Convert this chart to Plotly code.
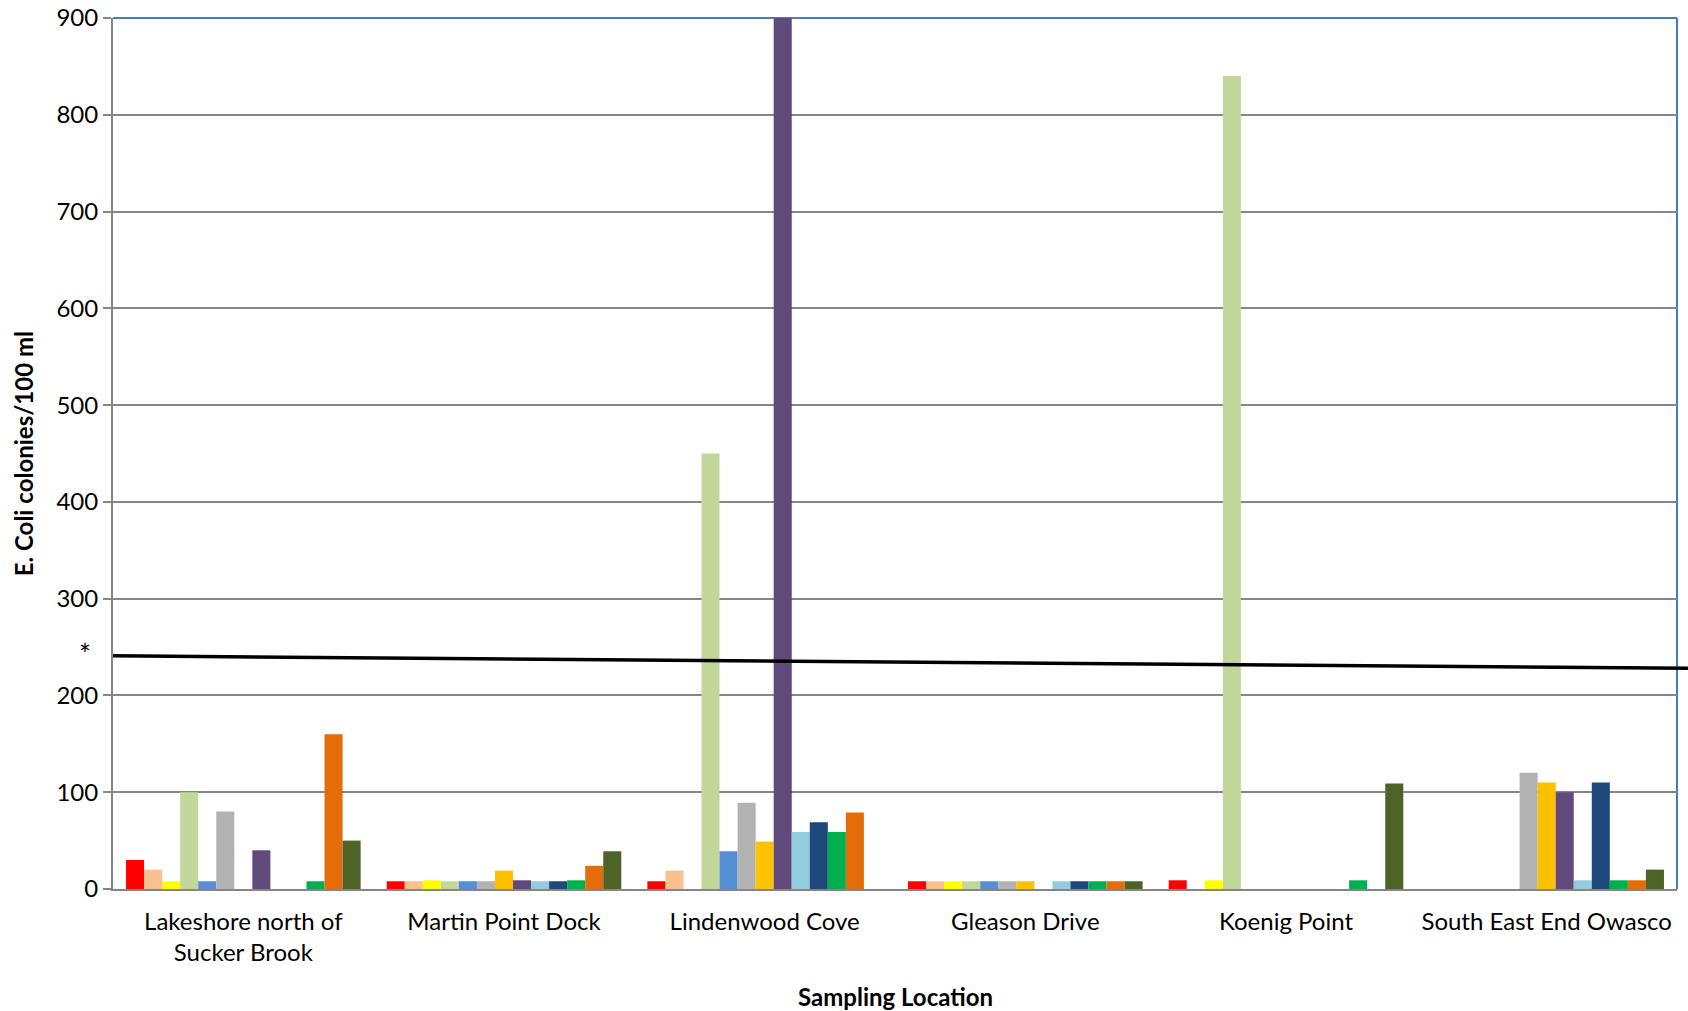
import plotly.graph_objects as go

locations = ["Lakeshore north of<br>Sucker Brook", "Martin Point Dock", "Lindenwood Cove",
             "Gleason Drive", "Koenig Point", "South East End Owasco"]

series_names = ["Sample 1", "Sample 2", "Sample 3", "Sample 4", "Sample 5", "Sample 6", "Sample 7",
                "Sample 8", "Sample 9", "Sample 10", "Sample 11", "Sample 12", "Sample 13"]

colors = ["#FF0000", "#FAC090", "#FFFF00", "#C4D79B", "#558ED5", "#B2B2B2", "#FFC000",
          "#604A7B", "#93CDDD", "#1F497D", "#00B050", "#E46C0A", "#4F6228"]

# values per series, ordered by location
s1 = [30, 8, 8, 8, 9, 0]
s2 = [20, 8, 19, 8, 0, 0]
s3 = [8, 9, 0, 8, 9, 0]
s4 = [100, 8, 450, 8, 840, 0]
s5 = [8, 8, 39, 8, 0, 0]
s6 = [80, 8, 89, 8, 0, 120]
s7 = [0, 19, 49, 8, 0, 110]
s8 = [40, 9, 950, 0, 0, 100]
s9 = [0, 8, 59, 8, 0, 9]
s10 = [0, 8, 69, 8, 0, 110]
s11 = [8, 9, 59, 8, 9, 9]
s12 = [160, 24, 79, 8, 0, 9]
s13 = [50, 39, 0, 8, 109, 20]
all_series = [s1, s2, s3, s4, s5, s6, s7, s8, s9, s10, s11, s12, s13]

# standard reference line (start / end value) and its marker label
standard_start = 241
standard_end = 228
standard_label = "*"

y_ticks = [0, 100, 200, 300, 400, 500, 600, 700, 800, 900]

x_title = "Sampling Location"
y_title = "E. Coli colonies/100 ml"

FONT = "Lato, 'Open Sans', sans-serif"

fig = go.Figure()
for name, vals, col in zip(series_names, all_series, colors):
    fig.add_trace(go.Bar(
        x=locations, y=vals, name=name,
        marker=dict(color=col, line=dict(width=0)),
        showlegend=False,
    ))

# blue frame (top and right edges)
fig.add_shape(type="line", xref="paper", yref="paper", x0=0, x1=1, y0=1, y1=1,
              line=dict(color="#4A7EBB", width=2), layer="below")
fig.add_shape(type="line", xref="paper", yref="paper", x0=1, x1=1, y0=0, y1=1,
              line=dict(color="#4A7EBB", width=2), layer="below")

# standard line
fig.add_shape(type="line", xref="paper", yref="y", x0=0, x1=1.007,
              y0=standard_start, y1=standard_end,
              line=dict(color="black", width=3.5), layer="above")

fig.add_annotation(xref="paper", yref="y", x=-0.023, y=standard_start + 2, text=standard_label,
                   showarrow=False, font=dict(size=28, color="black", family=FONT))

# axis titles
fig.add_annotation(xref="paper", yref="paper", x=0.5, y=-0.123, text="<b>" + x_title + "</b>",
                   showarrow=False, xanchor="center", yanchor="middle",
                   font=dict(size=24, color="black", family=FONT))
fig.add_annotation(xref="paper", yref="paper", x=-0.057, y=0.5, text="<b>" + y_title + "</b>",
                   showarrow=False, xanchor="center", yanchor="middle", textangle=-90,
                   font=dict(size=24, color="black", family=FONT))

fig.update_layout(
    width=1688, height=1011,
    margin=dict(l=113, r=11, t=18, b=122, autoexpand=False),
    paper_bgcolor="white", plot_bgcolor="white",
    barmode="group", bargap=0.1, bargroupgap=0,
    font=dict(family=FONT, color="black", size=24),
)

fig.update_xaxes(
    automargin=False,
    showline=True, linecolor="#868686", linewidth=2, mirror=False,
    showgrid=False, ticks="", tickfont=dict(size=24, family=FONT),
    ticklabelstandoff=10, ticklabeloverflow="allow",
)
fig.update_yaxes(
    automargin=False,
    range=[0, 900], tickvals=y_ticks, showline=True, linecolor="#868686", linewidth=2,
    ticks="outside", ticklen=8, tickcolor="#868686", tickwidth=2,
    showgrid=True, gridcolor="#868686", gridwidth=2, zeroline=False,
    tickfont=dict(size=24, family=FONT), ticklabeloverflow="allow",
)

fig.write_html("out.html",
               config={"displayModeBar": False},
               post_script="document.body.style.margin='0px';document.body.style.overflow='hidden';")
